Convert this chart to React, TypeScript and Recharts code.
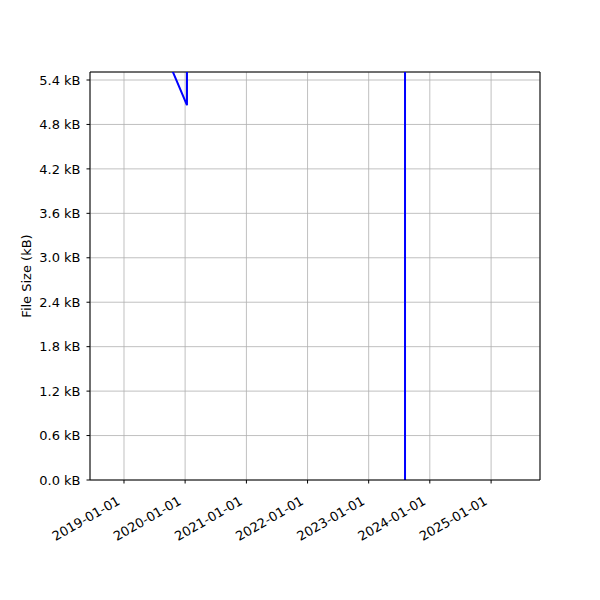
import { LineChart, Line, XAxis, YAxis, CartesianGrid, ReferenceLine } from 'recharts'

// file size history (kB); the line runs above the visible range for most of the period
const dates = ['2018-10-12', '2020-01-12', '2020-01-12', '2023-08-06', '2023-08-06']
const sizes = [7.5, 5.06, 9.0, 9.4, 0]

const tickDates = ['2019-01-01', '2020-01-01', '2021-01-01', '2022-01-01', '2023-01-01', '2024-01-01', '2025-01-01']
const yTicks = [0, 0.6, 1.2, 1.8, 2.4, 3.0, 3.6, 4.2, 4.8, 5.4]

const toTs = (d: string) => Date.parse(d + 'T00:00:00Z')

const data = dates.map((d, i) => ({ t: toTs(d), size: sizes[i] }))
const xTicks = tickDates.map(toTs)
const xMin = toTs('2018-06-12')
const xMax = toTs('2025-10-20')
const yMax = 5.508

const FONT = 'DejaVu Sans, sans-serif'

function DateTick(props: any) {
  const { x, y, payload } = props
  const label = new Date(payload.value).toISOString().slice(0, 10)
  const ax = x - 3
  const ay = y + 18
  return (
    <text
      x={ax}
      y={ay}
      transform={`rotate(-30, ${ax}, ${ay})`}
      textAnchor="end"
      fontSize={13}
      fontFamily={FONT}
      fill="#000"
    >
      {label}
    </text>
  )
}

function YLabel() {
  return (
    <text
      x={26}
      y={276}
      transform="rotate(-90, 26, 276)"
      textAnchor="middle"
      dominantBaseline="central"
      fontSize={13}
      fontFamily={FONT}
      fill="#000"
    >
      File Size (kB)
    </text>
  )
}

export default function App() {
  return (
    <div style={{ position: 'absolute', left: 0, top: 0, width: 600, height: 600, background: '#fff' }}>
      <LineChart width={600} height={600} data={data} margin={{ top: 72, right: 60, bottom: 60, left: 0 }}>
        <CartesianGrid stroke="#b0b0b0" strokeWidth={0.8} />
        <XAxis
          dataKey="t"
          type="number"
          domain={[xMin, xMax]}
          ticks={xTicks}
          interval={0}
          allowDataOverflow
          height={60}
          tickSize={3.5}
          tick={<DateTick />}
          axisLine={{ stroke: '#000', strokeWidth: 1 }}
          tickLine={{ stroke: '#000' }}
        />
        <YAxis
          type="number"
          domain={[0, yMax]}
          ticks={yTicks}
          interval={0}
          allowDataOverflow
          width={90}
          tickSize={3.5}
          tickMargin={6}
          tickFormatter={(v: number) => v.toFixed(1) + ' kB'}
          tick={{ fill: '#000', fontSize: 13, fontFamily: FONT }}
          axisLine={{ stroke: '#000', strokeWidth: 1 }}
          tickLine={{ stroke: '#000' }}
          label={<YLabel />}
        />
        <ReferenceLine y={yMax} stroke="#000" strokeWidth={1} />
        <ReferenceLine x={xMax} stroke="#000" strokeWidth={1} />
        <Line
          type="linear"
          dataKey="size"
          stroke="#0000ff"
          strokeWidth={2}
          dot={false}
          isAnimationActive={false}
        />
      </LineChart>
    </div>
  )
}
